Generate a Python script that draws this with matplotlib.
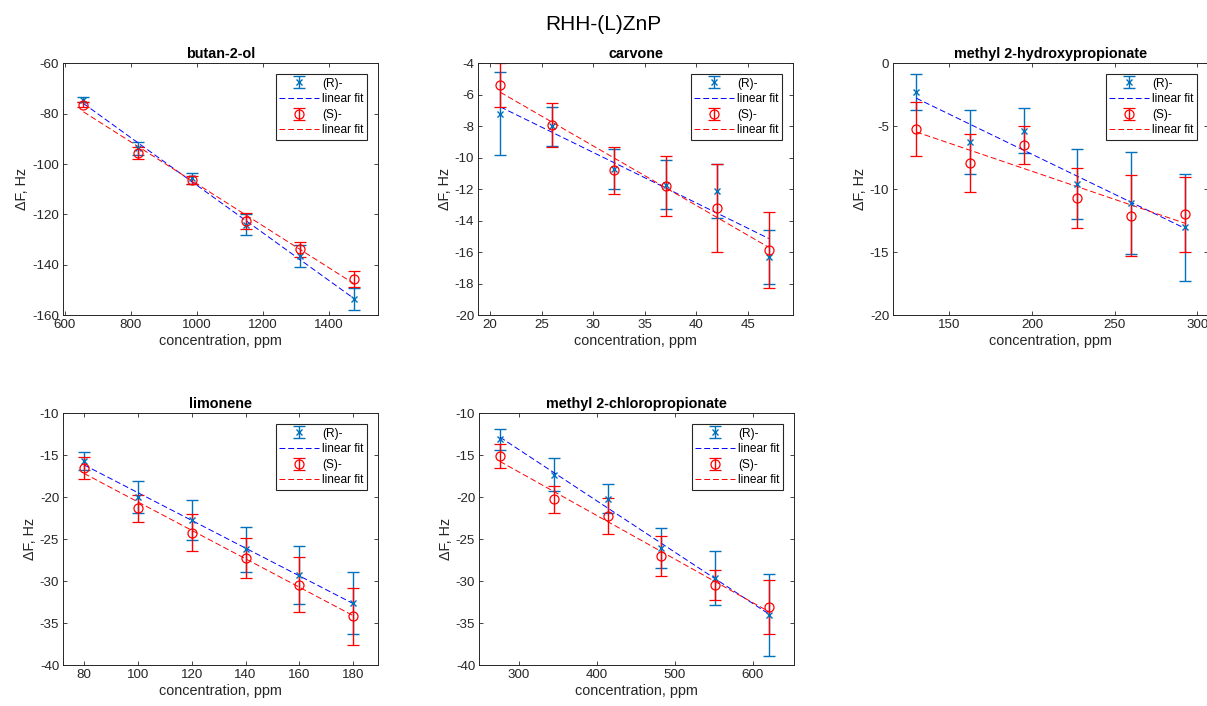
#!/usr/bin/env python3
import numpy as np
import matplotlib
matplotlib.use('Agg')
import matplotlib.pyplot as plt

plt.rcParams['font.family'] = ['Liberation Sans', 'DejaVu Sans']
plt.rcParams['font.size'] = 9.6
plt.rcParams['axes.edgecolor'] = '#262626'
plt.rcParams['xtick.color'] = '#262626'
plt.rcParams['ytick.color'] = '#262626'

TITLES = ['butan-2-ol', 'carvone', 'methyl 2-hydroxypropionate',
          'limonene', 'methyl 2-chloropropionate']

# concentrations, ppm
conc_butanol = [656, 820, 984, 1148, 1312, 1476]
conc_carvone = [21, 26, 32, 37, 42, 47]
conc_mhp = [130, 162.5, 195, 227.5, 260, 292.5]
conc_limonene = [80, 100, 120, 140, 160, 180]
conc_mcp = [276, 345, 414, 483, 552, 621]

# delta F, Hz  (R)- and (S)- with errors
r_butanol = [-74.5, -93.8, -105.6, -124.0, -136.6, -153.6]
r_butanol_err = [1.0, 2.5, 2.1, 4.0, 4.4, 4.4]
s_butanol = [-76.4, -95.5, -106.2, -122.7, -133.8, -145.7]
s_butanol_err = [1.0, 2.4, 1.5, 3.1, 2.9, 3.1]

r_carvone = [-7.2, -8.0, -10.7, -11.7, -12.1, -16.3]
r_carvone_err = [2.65, 1.25, 1.27, 1.57, 1.7, 1.74]
s_carvone = [-5.4, -7.9, -10.8, -11.8, -13.2, -15.85]
s_carvone_err = [1.4, 1.4, 1.5, 1.9, 2.78, 2.4]

r_mhp = [-2.3, -6.26, -5.34, -9.6, -11.1, -13.0]
r_mhp_err = [1.42, 2.53, 1.79, 2.78, 4.04, 4.25]
s_mhp = [-5.2, -7.93, -6.5, -10.7, -12.1, -12.0]
s_mhp_err = [2.12, 2.29, 1.52, 2.37, 3.23, 2.97]

r_limonene = [-15.7, -20.0, -22.7, -26.2, -29.2, -32.6]
r_limonene_err = [1.07, 1.9, 2.36, 2.68, 3.46, 3.7]
s_limonene = [-16.5, -21.3, -24.2, -27.2, -30.4, -34.15]
s_limonene_err = [1.35, 1.63, 2.16, 2.4, 3.24, 3.4]

r_mcp = [-13.1, -17.3, -20.15, -26.06, -29.6, -34.04]
r_mcp_err = [1.25, 1.95, 1.7, 2.4, 3.17, 4.9]
s_mcp = [-15.1, -20.25, -22.2, -27.0, -30.4, -33.1]
s_mcp_err = [1.45, 1.65, 2.15, 2.4, 1.8, 3.2]

XLIMS = [(595, 1548), (18.86, 49.35), (116.1, 306.5), (72.3, 189.2), (249.5, 653)]
YLIMS = [(-160, -60), (-20, -4), (-20, 0), (-40, -10), (-40, -10)]
YTICKS = [np.arange(-160, -59, 20), np.arange(-20, -3, 2), np.arange(-20, 1, 5),
          np.arange(-40, -9, 5), np.arange(-40, -9, 5)]

W, H = 1207, 706
POS = [(63.3, 63.3), (478.3, 63.3), (893.3, 63.3), (63.3, 413.3), (479.3, 413.3)]
AX_W, AX_H = 314.7, 252.0

R_COLOR = '#0072BD'
S_COLOR = '#FF0000'


def draw(ax, x, r, r_err, s, s_err, title, xlim, ylim, yticks):
    x = np.asarray(x, dtype=float)
    h_r = ax.errorbar(x, r, yerr=r_err, fmt='x', color=R_COLOR, ms=4.5, mew=1.0,
                      elinewidth=1.0, capsize=4.5, capthick=1.0)
    pr = np.polyfit(x, r, 1)
    h_rf, = ax.plot(x, np.polyval(pr, x), '--', color='#0000FF', lw=0.7,
                    dashes=(6, 3))
    h_s = ax.errorbar(x, s, yerr=s_err, fmt='o', color=S_COLOR, mfc='none', ms=6.5,
                      mew=0.9, elinewidth=1.0, capsize=4.5, capthick=1.0)
    ps = np.polyfit(x, s, 1)
    h_sf, = ax.plot(x, np.polyval(ps, x), '--', color='#FF0000', lw=0.7,
                    dashes=(6, 3))

    ax.set_xlim(*xlim)
    ax.set_ylim(*ylim)
    ax.set_yticks(yticks)
    ax.set_yticklabels([f'{v:g}' for v in yticks])
    ax.tick_params(direction='in', top=True, right=True, length=3, width=0.6,
                   labelsize=9.6, pad=3)
    for sp in ax.spines.values():
        sp.set_linewidth(0.7)
    ax.set_title(title, fontsize=10.4, fontweight='bold', pad=4)
    ax.set_xlabel('concentration, ppm', fontsize=10.4, color='#262626', labelpad=2)
    ax.set_ylabel('ΔF, Hz', fontsize=10.4, color='#262626', labelpad=2)
    leg = ax.legend([h_r, h_rf, h_s, h_sf], ['(R)-', 'linear fit', '(S)-', 'linear fit'],
                    loc='upper right', fontsize=8.6, handlelength=3.3,
                    handletextpad=0.3, borderpad=0.3, labelspacing=0.3,
                    fancybox=False, framealpha=1, edgecolor='#262626',
                    borderaxespad=0.9)
    leg.get_frame().set_linewidth(0.8)


if __name__ == '__main__':
    fig = plt.figure(figsize=(W / 100, H / 100), dpi=100)
    data = [
        (conc_butanol, r_butanol, r_butanol_err, s_butanol, s_butanol_err),
        (conc_carvone, r_carvone, r_carvone_err, s_carvone, s_carvone_err),
        (conc_mhp, r_mhp, r_mhp_err, s_mhp, s_mhp_err),
        (conc_limonene, r_limonene, r_limonene_err, s_limonene, s_limonene_err),
        (conc_mcp, r_mcp, r_mcp_err, s_mcp, s_mcp_err),
    ]
    for i, d in enumerate(data):
        left, top = POS[i]
        ax = fig.add_axes([left / W, 1 - (top + AX_H) / H, AX_W / W, AX_H / H])
        draw(ax, *d, TITLES[i], XLIMS[i], YLIMS[i], YTICKS[i])

    fig.text(0.5, 1 - 24 / H, 'RHH-(L)ZnP', ha='center', va='center', fontsize=15)
    fig.savefig('out.png', dpi=100)
